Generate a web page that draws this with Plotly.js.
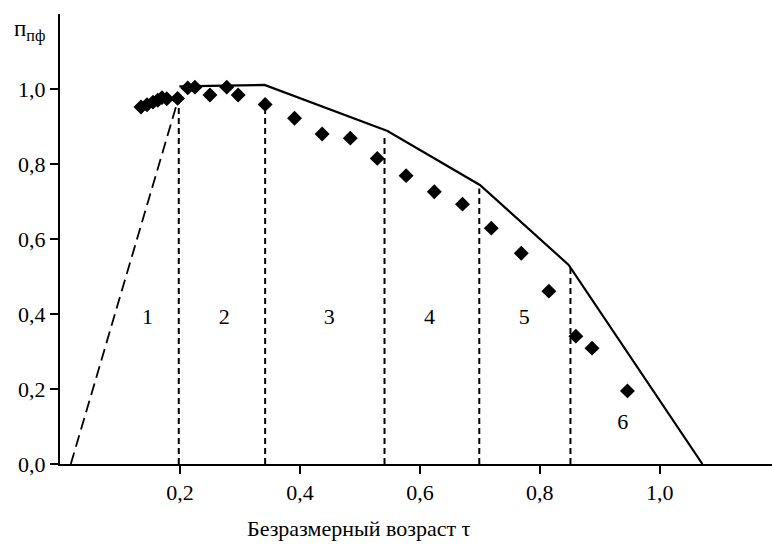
<!DOCTYPE html>
<html>
<head>
<meta charset="utf-8">
<script src="https://cdn.plot.ly/plotly-3.0.1.min.js"></script>
<style>html,body{margin:0;padding:0;background:#fff;}</style>
</head>
<body>
<div id="chart" style="width:772px;height:547px;"></div>
<script>
// Experimental points (dimensionless age tau, pi_pf)
var tauPoints = [0.135,0.145,0.155,0.163,0.170,0.178,0.196,0.213,0.225,0.250,0.278,0.297,0.342,0.391,0.437,0.484,0.529,0.577,0.624,0.671,0.719,0.769,0.815,0.860,0.887,0.946];
var piPoints  = [0.952,0.958,0.965,0.970,0.977,0.974,0.975,1.003,1.005,0.984,1.005,0.984,0.959,0.922,0.880,0.869,0.815,0.769,0.726,0.693,0.629,0.562,0.461,0.341,0.309,0.195];

// Solid envelope (piecewise linear model)
var envTau = [0.199,0.341,0.546,0.700,0.848,1.071];
var envPi  = [1.007,1.011,0.888,0.744,0.531,0.0];

// Dashed rising segment (stage 1)
var riseTau = [0.018,0.198];
var risePi  = [0.0,0.978];

// Stage boundaries (vertical dashed lines)
var boundTau = [0.198,0.342,0.541,0.699,0.851];
var boundTop = [0.975,0.980,0.871,0.735,0.526];

// Stage numbers
var stageLabels = ["1","2","3","4","5","6"];
var stageTau    = [0.146,0.274,0.449,0.616,0.774,0.938];
var stagePi     = [0.389,0.389,0.389,0.389,0.389,0.108];

// Tick labels
var xTicks = [0.2,0.4,0.6,0.8,1.0];
var yTicks = [0.0,0.2,0.4,0.6,0.8,1.0];

var bx = [], by = [];
for (var i = 0; i < boundTau.length; i++) {
  bx.push(boundTau[i], boundTau[i], null);
  by.push(0, boundTop[i], null);
}

var FONT = "'Liberation Serif', 'Times New Roman', serif";
var FS = 22;

var traces = [
  {x: bx, y: by, mode: 'lines', line: {color: '#000', width: 2, dash: '6px,4px'}, hoverinfo: 'skip', connectgaps: false},
  {x: riseTau, y: risePi, mode: 'lines', line: {color: '#000', width: 1.8, dash: '12px,6px'}, hoverinfo: 'skip'},
  {x: envTau, y: envPi, mode: 'lines', line: {color: '#000', width: 2.2}, hoverinfo: 'skip'},
  {x: tauPoints, y: piPoints, mode: 'markers', marker: {symbol: 'diamond', size: 11.5, color: '#000'}, cliponaxis: false},
  {x: stageTau, y: stagePi, mode: 'text', text: stageLabels, textfont: {family: FONT, size: FS, color: '#000'}, textposition: 'middle center'}
];

var layout = {
  width: 772, height: 547,
  margin: {l: 60, r: 0, t: 14, b: 83, pad: 0},
  paper_bgcolor: '#fff', plot_bgcolor: '#fff',
  showlegend: false,
  separators: ', ',
  font: {family: FONT, size: FS, color: '#000'},
  xaxis: {
    range: [0, 1.187], showgrid: false, zeroline: false,
    showline: true, linecolor: '#000', linewidth: 2,
    ticks: 'outside', ticklen: 8, tickwidth: 1.5, tickcolor: '#000',
    tickvals: xTicks, tickformat: '.1f',
    tickfont: {family: FONT, size: FS, color: '#000'}
  },
  yaxis: {
    range: [0, 1.2], showgrid: false, zeroline: false,
    showline: true, linecolor: '#000', linewidth: 2,
    ticks: 'outside', ticklen: 8, tickwidth: 1.5, tickcolor: '#000',
    tickvals: yTicks, tickformat: '.1f',
    tickfont: {family: FONT, size: FS, color: '#000'}
  },
  annotations: [
    {text: 'Безразмерный возраст τ', xref: 'paper', yref: 'paper', x: 0.42, y: -0.143,
     xanchor: 'center', yanchor: 'middle', showarrow: false, font: {family: FONT, size: FS, color: '#000'}},
    {text: 'п<sub>пф</sub>', xref: 'paper', yref: 'paper', x: -0.068, y: 1.0,
     xanchor: 'left', yanchor: 'top', showarrow: false, font: {family: FONT, size: 23, color: '#000'}}
  ]
};

Plotly.newPlot('chart', traces, layout, {staticPlot: true, displayModeBar: false});
</script>
</body>
</html>
